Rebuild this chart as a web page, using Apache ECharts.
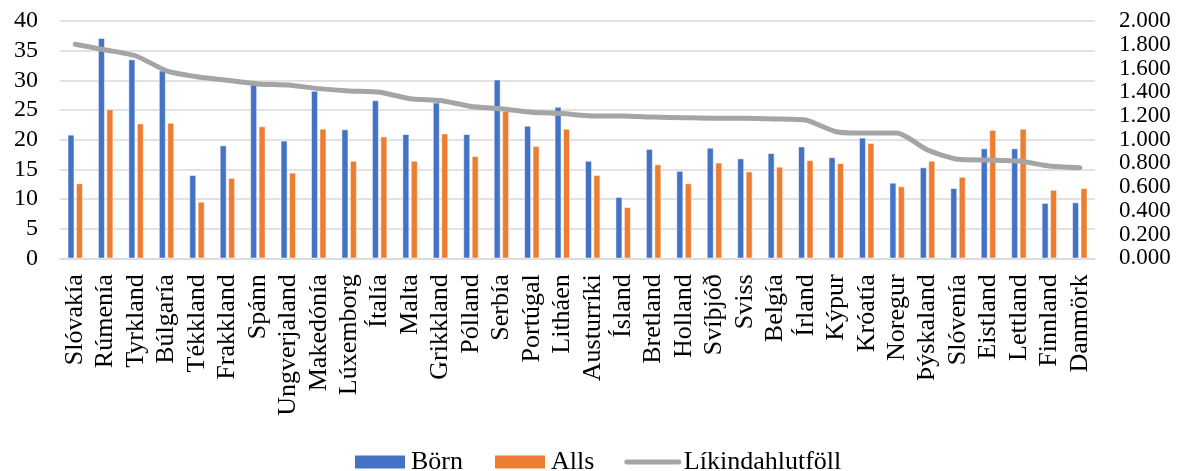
<!DOCTYPE html>
<html>
<head>
<meta charset="utf-8">
<script src="https://cdn.jsdelivr.net/npm/echarts@6/dist/echarts.min.js"></script>
<style>html,body{margin:0;padding:0;background:#fff}#c{width:1185px;height:471px}</style>
</head>
<body>
<div id="c"></div>
<script>
const categories = ["Slóvakía","Rúmenía","Tyrkland","Búlgaría","Tékkland","Frakkland","Spánn","Ungverjaland","Makedónía","Lúxemborg","Ítalía","Malta","Grikkland","Pólland","Serbía","Portúgal","Litháen","Austurríki","Ísland","Bretland","Holland","Svíþjóð","Sviss","Belgía","Írland","Kýpur","Króatía","Noregur","Þýskaland","Slóvenía","Eistland","Lettland","Finnland","Danmörk"];
const born = [20.8,37.1,33.5,31.6,14.0,19.0,29.4,19.8,28.2,21.7,26.6,20.9,26.2,20.9,30.1,22.3,25.5,16.4,10.3,18.4,14.7,18.6,16.8,17.7,18.8,17.0,20.3,12.7,15.3,11.8,18.5,18.5,9.3,9.4];
const alls = [12.6,25.1,22.7,22.8,9.5,13.5,22.2,14.4,21.8,16.4,20.5,16.4,21.0,17.2,24.8,18.9,21.8,14.0,8.6,15.8,12.6,16.1,14.6,15.4,16.5,16.0,19.4,12.1,16.4,13.7,21.6,21.8,11.5,11.8];
const ratio = [1.804,1.756,1.705,1.58,1.53,1.50,1.47,1.46,1.43,1.41,1.40,1.345,1.33,1.28,1.26,1.23,1.22,1.20,1.20,1.19,1.185,1.18,1.18,1.175,1.165,1.067,1.055,1.055,0.913,0.834,0.828,0.82,0.778,0.764];
const seriesNames = ["Börn","Alls","Líkindahlutföll"];

const font = "'Liberation Serif','Times New Roman',serif";
const catFs = 26, legFs = 26;
const chart = echarts.init(document.getElementById('c'));
chart.setOption({
  animation: false,
  textStyle: {fontFamily: font},
  grid: {left: 60, right: 90, top: 21, bottom: 212.7, containLabel: false},
  legend: {
    left: 348, top: 444,
    itemWidth: 52, itemHeight: 15, itemGap: 30,
    textStyle: {fontFamily: font, fontSize: legFs, color: '#000'},
    data: [
      {name: seriesNames[0], icon: 'rect'},
      {name: seriesNames[1], icon: 'rect'},
      {name: seriesNames[2], itemStyle: {opacity: 0}, lineStyle: {width: 5, color: '#A5A5A5', cap: 'round'}}
    ]
  },
  xAxis: {
    type: 'category', data: categories, boundaryGap: true,
    axisLine: {lineStyle: {color: '#D9D9D9', width: 1.5}},
    axisTick: {show: false},
    axisLabel: {rotate: 90, interval: 0, margin: 16, fontFamily: font, fontSize: catFs, color: '#000'}
  },
  yAxis: [
    {type: 'value', min: 0, max: 40, interval: 5,
     axisLine: {show: false}, axisTick: {show: false},
     splitLine: {lineStyle: {color: '#D9D9D9', width: 1.5}},
     axisLabel: {margin: 22, fontFamily: font, fontSize: 24, color: '#000',
       showMinLabel: true, showMaxLabel: true}},
    {type: 'value', min: 0, max: 2, interval: 0.2,
     axisLine: {show: false}, axisTick: {show: false}, splitLine: {show: false},
     axisLabel: {margin: 24, fontFamily: font, fontSize: 23, lineHeight: 18, color: '#000',
       showMinLabel: true, showMaxLabel: true, hideOverlap: false,
       formatter: v => v.toFixed(3)}}
  ],
  series: [
    {name: seriesNames[0], type: 'bar', data: born, barWidth: 6.5, barGap: '30%',
     itemStyle: {color: '#4472C4', borderColor: '#fff', borderWidth: 0.5}},
    {name: seriesNames[1], type: 'bar', data: alls, barWidth: 6.5, barGap: '30%',
     itemStyle: {color: '#ED7D31', borderColor: '#fff', borderWidth: 0.5}},
    {name: seriesNames[2], type: 'line', yAxisIndex: 1, data: ratio, smooth: 0.2,
     symbol: 'none', lineStyle: {color: '#A5A5A5', width: 5, cap: 'round', join: 'round'},
     itemStyle: {color: '#A5A5A5'}, z: 5}
  ]
});
</script>
</body>
</html>
